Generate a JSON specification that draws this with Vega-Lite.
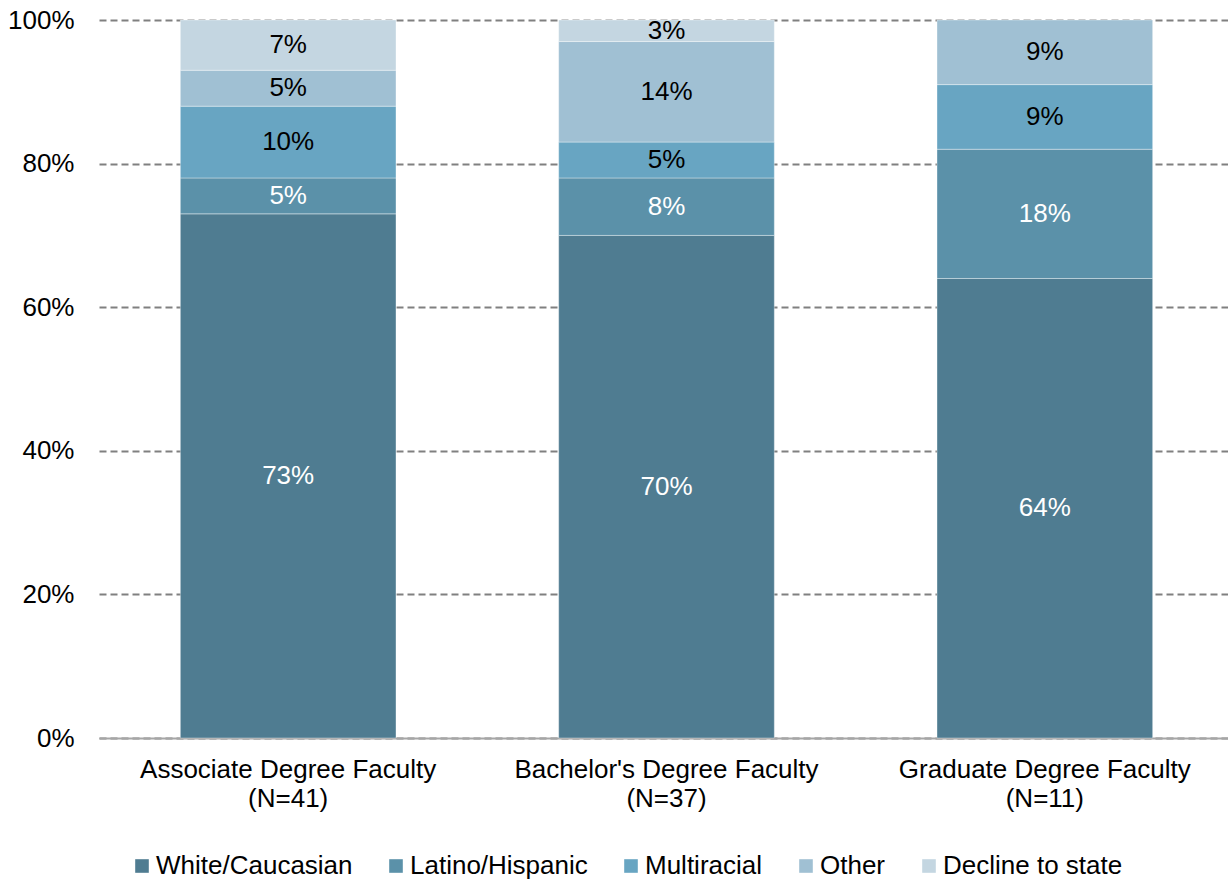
{
  "$schema": "https://vega.github.io/schema/vega-lite/v6.json",
  "autosize": {"type": "none"},
  "padding": {"left": 99, "top": 20, "right": 0, "bottom": 144},
  "width": 1135,
  "height": 718,
  "background": "white",
  "config": {
    "font": "Liberation Sans",
    "view": {"stroke": null}
  },
  "data": {
    "values": [
      {"group": "Associate Degree Faculty|(N=41)", "race": "White/Caucasian", "ord": 1, "share": 0.73},
      {"group": "Associate Degree Faculty|(N=41)", "race": "Latino/Hispanic", "ord": 2, "share": 0.05},
      {"group": "Associate Degree Faculty|(N=41)", "race": "Multiracial", "ord": 3, "share": 0.10},
      {"group": "Associate Degree Faculty|(N=41)", "race": "Other", "ord": 4, "share": 0.05},
      {"group": "Associate Degree Faculty|(N=41)", "race": "Decline to state", "ord": 5, "share": 0.07},
      {"group": "Bachelor's Degree Faculty|(N=37)", "race": "White/Caucasian", "ord": 1, "share": 0.70},
      {"group": "Bachelor's Degree Faculty|(N=37)", "race": "Latino/Hispanic", "ord": 2, "share": 0.08},
      {"group": "Bachelor's Degree Faculty|(N=37)", "race": "Multiracial", "ord": 3, "share": 0.05},
      {"group": "Bachelor's Degree Faculty|(N=37)", "race": "Other", "ord": 4, "share": 0.14},
      {"group": "Bachelor's Degree Faculty|(N=37)", "race": "Decline to state", "ord": 5, "share": 0.03},
      {"group": "Graduate Degree Faculty|(N=11)", "race": "White/Caucasian", "ord": 1, "share": 0.64},
      {"group": "Graduate Degree Faculty|(N=11)", "race": "Latino/Hispanic", "ord": 2, "share": 0.18},
      {"group": "Graduate Degree Faculty|(N=11)", "race": "Multiracial", "ord": 3, "share": 0.09},
      {"group": "Graduate Degree Faculty|(N=11)", "race": "Other", "ord": 4, "share": 0.09}
    ]
  },
  "transform": [
    {"stack": "share", "groupby": ["group"], "sort": [{"field": "ord", "order": "ascending"}], "as": ["s0", "s1"]},
    {"calculate": "(datum.s0 + datum.s1) / 2", "as": "mid"}
  ],
  "encoding": {
    "x": {
      "field": "group",
      "type": "nominal",
      "sort": null,
      "scale": {"paddingInner": 0.43, "paddingOuter": 0.215},
      "axis": {
        "title": null,
        "labelAngle": 0,
        "labelExpr": "split(datum.label, '|')",
        "labelFontSize": 26,
        "labelColor": "black",
        "labelLineHeight": 29,
        "labelPadding": 18,
        "ticks": false,
        "domainColor": "#a6a6a6",
        "domainWidth": 2,
        "labelLimit": 400
      }
    }
  },
  "layer": [
    {
      "mark": {"type": "bar", "stroke": "white", "strokeWidth": 0.6, "strokeOpacity": 0.6},
      "encoding": {
        "y": {
          "field": "s0",
          "type": "quantitative",
          "scale": {"domain": [0, 1], "nice": false},
          "axis": {
            "title": null,
            "format": ".0%",
            "values": [0, 0.2, 0.4, 0.6, 0.8, 1],
            "domain": false,
            "ticks": false,
            "labelFontSize": 26,
            "labelColor": "black",
            "labelPadding": 25,
            "gridColor": "#808080",
            "gridDash": [7, 4],
            "gridWidth": 2,
            "zindex": 0
          }
        },
        "y2": {"field": "s1"},
        "color": {
          "field": "race",
          "type": "nominal",
          "scale": {
            "domain": ["White/Caucasian", "Latino/Hispanic", "Multiracial", "Other", "Decline to state"],
            "range": ["#4f7c91", "#5b91a9", "#68a5c2", "#a0c0d3", "#c4d6e1"]
          },
          "legend": {
            "title": null,
            "orient": "none",
            "direction": "horizontal",
            "legendX": 30,
            "legendY": 833,
            "symbolType": "square",
            "symbolSize": 185,
            "symbolStrokeWidth": 0,
            "labelFontSize": 26,
            "labelColor": "black",
            "labelOffset": 1,
            "columnPadding": 30,
            "labelLimit": 300
          }
        }
      }
    },
    {
      "mark": {"type": "text", "fontSize": 26, "baseline": "middle", "align": "center"},
      "encoding": {
        "y": {"field": "mid", "type": "quantitative"},
        "text": {"field": "share", "type": "quantitative", "format": ".0%"},
        "color": {
          "condition": {"test": "datum.race === 'White/Caucasian' || datum.race === 'Latino/Hispanic'", "value": "white"},
          "value": "black"
        }
      }
    }
  ]
}
